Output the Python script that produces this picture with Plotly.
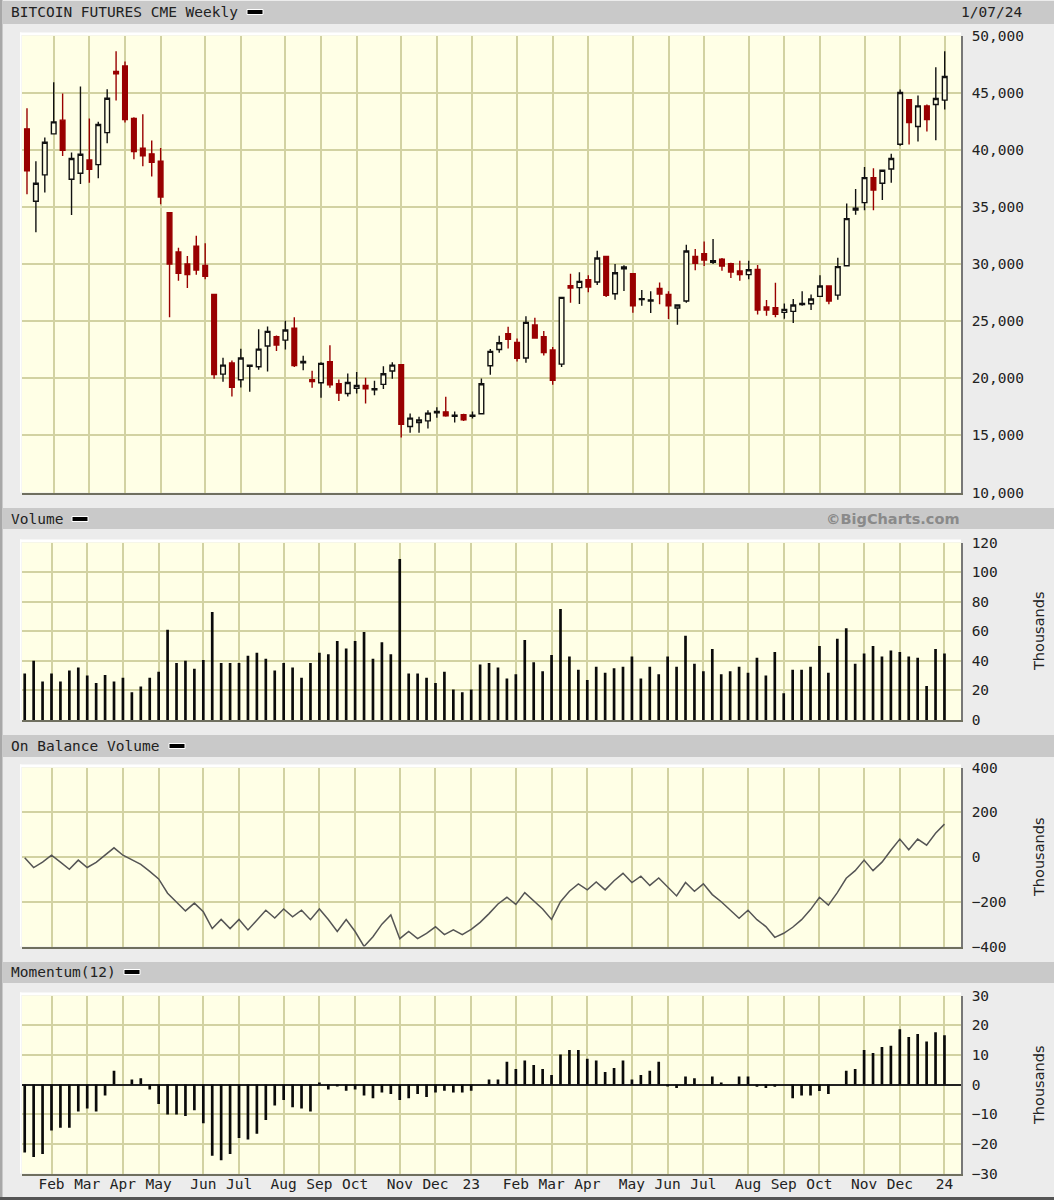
import pandas as pd
import plotly.graph_objects as go

weeks = pd.date_range("2022-01-16", periods=104, freq="7D")

open_ = [41830,35490,37800,41390,42590,37420,37940,39110,38700,41500,46850,47340,42730,40130,39640,38990,
         34500,31050,30000,31550,29880,27340,20360,21330,19870,21040,21010,22820,23630,23340,24390,21360,
         19870,19600,21440,19520,18670,19110,19370,18990,19460,20630,21180,15780,16130,16270,16980,17060,
         16680,16800,16680,16890,21090,22520,23900,23140,21770,24660,23630,22470,21240,28100,27930,28630,
         28420,30670,27400,29590,29150,26880,26760,27870,27340,26150,26760,30670,30900,30150,30410,30030,
         29390,29070,29530,26230,26170,25770,25850,26440,26520,27170,28070,27280,29850,34730,35370,37560,
         37070,38320,40480,44370,42030,43840,43960,44340]
high = [43640,38990,41070,45910,44920,39750,45530,42730,42440,45300,48630,47720,42850,43110,40800,40160,
        34500,31430,30700,32480,31810,27340,21800,21560,22580,21150,24280,24540,23750,25040,25330,21970,
        20660,21410,22880,19900,20420,20540,20040,19780,21040,21410,21180,16920,16630,17210,17470,18380,
        17090,16890,17090,19980,22550,23720,24510,23490,25420,25300,24130,22730,27140,29150,29270,29010,
        31170,30670,30000,29880,29150,27720,27610,28390,27610,26470,31690,31310,31960,32190,30530,30120,
        30290,30290,29910,26850,28360,26550,26930,27610,27340,29010,28070,30550,35290,36570,38500,38380,
        38230,39640,45270,44370,44750,43960,47230,48630]
low = [36100,32770,36250,41390,39460,34290,37010,37120,37500,40570,44310,42380,39170,38560,37650,35230,
       25330,28540,27900,29070,28660,19955,19690,18410,19200,18820,20740,20600,22380,22520,20980,20710,
       19170,18290,19170,18000,18410,18670,17800,18520,19050,19950,14820,15220,15220,15600,16540,16630,
       16130,16250,16480,16890,20310,22230,22610,21470,21360,23520,22000,19430,20980,26610,26500,27520,
       28160,27110,26880,27630,25740,26350,25710,26470,25180,24690,26610,29450,29820,30000,29420,28770,
       28540,28660,25590,25470,25330,25210,24830,26350,25970,27170,26470,26880,29850,34320,34700,34700,
       35610,37120,40340,40450,40720,41590,40830,43520]
close = [38150,37070,40660,42440,39960,39230,39610,38290,42210,44510,46640,42640,39840,39460,38910,35870,
         30000,29180,29070,29470,28920,20330,21150,19200,21770,21150,22550,24100,22900,24220,21120,21470,
         19720,21300,19430,18700,19630,19370,19080,19080,20390,21150,15980,16510,16360,16950,17090,16710,
         16770,16360,16770,19520,22350,23110,23400,21740,24890,23520,22260,19810,27080,27900,28480,27990,
         30530,27250,29240,29740,26350,26960,26850,27370,26350,26410,31140,30060,30350,30290,29820,29300,
         29070,29500,25970,25970,25590,26030,26410,26550,26930,28070,26760,29770,33970,34880,37560,36480,
         38210,39230,45010,42380,43840,42640,44480,46410]

volume = [31.5,40,26,31.5,26,33.5,35.5,30,25,30.5,26,28.5,18.7,22.7,28.5,32.6,61,38.5,40,34.7,40.5,73,38.5,
          38.5,38.5,43.5,45.5,41.4,33.5,38.5,35.5,28.5,38.5,45.5,44.4,53.4,48.4,53.4,59.5,41.4,52.5,44.4,
          108.8,31.5,31.5,28.5,25,32.6,20.7,18.7,20.7,37.6,38.5,35.5,28,31,54,39,33,44,75,43,34,27,36,32,
          35,36,43,28,36,31,43,36,57,38,33,48,31,33,36,32,42,30,46,18,34,34,36,50,32,55,62,38,45,50,43,47,
          46,43,42,23,48,45]
obv = [-3,-47,-23,8,-23,-55,-14,-47,-24,8,41,8,-14,-33,-64,-98,-162,-202,-241,-206,-245,-320,-279,-320,
       -279,-326,-280,-238,-273,-232,-267,-238,-280,-232,-279,-333,-279,-333,-400,-356,-300,-259,-365,-333,
       -365,-341,-312,-347,-326,-347,-323,-292,-253,-210,-180,-212,-159,-197,-232,-279,-200,-153,-120,-147,
       -112,-147,-106,-73,-114,-86,-127,-94,-133,-174,-114,-153,-120,-168,-200,-235,-274,-238,-280,-311,
       -359,-341,-314,-280,-235,-180,-215,-159,-95,-61,-14,-61,-23,30,80,32,80,53,106,147]
momentum = [-22.9,-24.4,-23.4,-15.5,-14.6,-14.6,-9.1,-8.1,-9.1,-3.7,4.6,0,1.7,2.1,-1.7,-6.6,-10.1,-10.1,-10.6,
            -8.7,-13.1,-24,-25.5,-23.4,-18,-18.5,-16.6,-12,-7.1,-5.2,-7.7,-8.1,-9.1,0.7,-1.7,-0.7,-2.1,-1.7,
            -3.7,-4.6,-2.7,-3.2,-5.2,-4.6,-3.2,-4.2,-2.7,-2.1,-2.7,-2.7,-2.1,0,1.7,1.7,7.7,5.2,8.1,6.6,5.2,3.2,
            10.1,11.6,11.6,8.7,8.1,4.2,5.6,8.1,1.7,3.2,4.6,7.7,-0.6,-1.2,2.7,2.1,0,2.7,0.7,0,2.7,2.7,-0.8,-1.2,
            -0.8,0,-4.6,-3.7,-3.7,-2.2,-3.2,0,4.6,5.2,11.6,10.6,12.6,13.1,18.6,16,17,14.5,17.6,16.6]

month_ticks = ["2022-02-06","2022-03-06","2022-04-03","2022-05-01","2022-06-05","2022-07-03","2022-08-07",
               "2022-09-04","2022-10-02","2022-11-06","2022-12-04","2023-01-01","2023-02-05","2023-03-05",
               "2023-04-02","2023-05-07","2023-06-04","2023-07-02","2023-08-06","2023-09-03","2023-10-01",
               "2023-11-05","2023-12-03","2024-01-07"]
month_labels = ["Feb","Mar","Apr","May","Jun","Jul","Aug","Sep","Oct","Nov","Dec","23","Feb","Mar","Apr",
                "May","Jun","Jul","Aug","Sep","Oct","Nov","Dec","24"]

price_ticks = [10000,15000,20000,25000,30000,35000,40000,45000,50000]
volume_ticks = [0,20,40,60,80,100,120]
obv_ticks = [-400,-200,0,200,400]
momentum_ticks = [-30,-20,-10,0,10,20,30]

W, H = 1054, 1200
BG = "#ececec"
HEADER = "#c9c9c9"
PLOT = "#ffffe6"
GRID = "#d2d2a2"
RED = "#990000"
MONO = "DejaVu Sans Mono"
XRANGE = ["2022-01-13 21:00", "2024-01-19 23:00"]
XRANGE_MAIN = ["2022-01-12 02:00", "2024-01-19 19:00"]
PX_L, PX_R = 22, 961
panels = [
    dict(top=35.5, bot=492.5, rng=[10000, 50000], ticks=price_ticks, fmt=","),
    dict(top=542.5, bot=720, rng=[0, 120], ticks=volume_ticks, fmt=""),
    dict(top=767.5, bot=946.5, rng=[-400, 400], ticks=obv_ticks, fmt=""),
    dict(top=995.5, bot=1173.5, rng=[-30, 30], ticks=momentum_ticks, fmt=""),
]

def fy(py):
    return 1 - py / H

def fx(px):
    return px / W

fig = go.Figure()
fig.add_trace(go.Candlestick(
    x=weeks, open=open_, high=high, low=low, close=close, xaxis="x", yaxis="y",
    increasing=dict(line=dict(color="#111111", width=1.4), fillcolor=PLOT),
    decreasing=dict(line=dict(color=RED, width=1.4), fillcolor=RED),
    whiskerwidth=0, showlegend=False))
fig.add_trace(go.Bar(x=weeks, y=volume, xaxis="x2", yaxis="y2", marker=dict(color="#0a0a0a", line_width=0),
                     showlegend=False))
fig.add_trace(go.Scatter(x=weeks, y=obv, xaxis="x3", yaxis="y3", mode="lines",
                         line=dict(color="#555555", width=1.5), showlegend=False))
fig.add_trace(go.Bar(x=weeks, y=momentum, xaxis="x4", yaxis="y4", marker=dict(color="#0a0a0a", line_width=0),
                     showlegend=False))

layout = dict(
    width=W, height=H, autosize=False, margin=dict(l=0, r=0, t=0, b=0),
    paper_bgcolor=BG, plot_bgcolor=PLOT, bargap=0.7, boxgap=0.25, showlegend=False,
    font=dict(family=MONO, size=14.5, color="#222222"),
)
for i, p in enumerate(panels):
    n = "" if i == 0 else str(i + 1)
    layout["xaxis" + n] = dict(
        type="date", domain=[fx(PX_L), fx(PX_R)], range=XRANGE_MAIN if i == 0 else XRANGE,
        anchor="y" + n, automargin=False,
        tickmode="array", tickvals=month_ticks, ticktext=month_labels if i == 3 else [""] * len(month_ticks),
        showgrid=True, gridcolor=GRID, gridwidth=1.5, showline=True, linecolor="#6f6f5f", linewidth=1.5,
        ticks="", zeroline=False, rangeslider=dict(visible=False), tickangle=0, fixedrange=True,
        ticklabelstandoff=-4, tickfont=dict(family=MONO, size=14.5, color="#222222"),
    )
    ticktext = [(f"{t:,}" if p["fmt"] else str(t)).replace("-", "\u2212") for t in p["ticks"]]
    layout["yaxis" + n] = dict(
        domain=[fy(p["bot"]), fy(p["top"])], range=p["rng"], anchor="x" + n, side="right", automargin=False,
        tickmode="array", tickvals=p["ticks"], ticktext=ticktext,
        showgrid=True, gridcolor=GRID, gridwidth=1.5, showline=True, linecolor="#777777", linewidth=1.5,
        ticks="outside", ticklen=6, tickcolor="rgba(0,0,0,0)", zeroline=(i == 3), zerolinecolor="#222222",
        zerolinewidth=2, fixedrange=True, tickfont=dict(family=MONO, size=14.5, color="#222222"),
    )

def rect(x0, y0, x1, y1, fill, line=None, width=0):
    return dict(type="rect", xref="paper", yref="paper", x0=fx(x0), x1=fx(x1), y0=fy(y1), y1=fy(y0),
                fillcolor=fill, line=dict(color=line or fill, width=width), layer="below")

shapes = [
    rect(3, 1, W, 24, HEADER), rect(3, 508, W, 529, HEADER),
    rect(3, 735, W, 757, HEADER), rect(3, 962, W, 983, HEADER),
    rect(0, 0, 2.5, H, "#a8a8a8"), rect(0, 1197, W, H, "#555555"),
]
for p in panels:
    shapes.append(rect(PX_L - 2, p["top"] - 3, PX_R, p["top"] - 0.5, "#ffffff"))
    shapes.append(rect(PX_L - 2, p["top"] - 3, PX_L - 0.5, p["bot"], "#ffffff"))
for x0, yc in [(247, 12), (72, 519), (169, 746), (124, 972)]:
    s = rect(x0, yc - 2.5, x0 + 16, yc + 2.5, "#000000", "#ffffff", 1)
    s["layer"] = "above"
    shapes.append(s)
layout["shapes"] = shapes

def note(px, py, text, anchor="left", **kw):
    font = kw.pop("font", dict(family=MONO, size=14.5, color="#222222"))
    return dict(xref="paper", yref="paper", x=fx(px), y=fy(py), text=text, showarrow=False, xanchor=anchor,
                yanchor="middle", font=font, **kw)

thousands = dict(family="DejaVu Sans", size=14.5, color="#222222")
layout["annotations"] = [
    note(9, 12.5, "BITCOIN FUTURES CME Weekly"),
    note(1024, 12.5, "1/07/24", anchor="right"),
    note(9, 519, "Volume"),
    note(962, 519, "\u00a9BigCharts.com", anchor="right",
         font=dict(family="DejaVu Sans", size=14.5, color="#8a8a8a", weight="bold")),
    note(9, 746, "On Balance Volume"),
    note(9, 972, "Momentum(12)"),
    note(1039, 631, "Thousands", anchor="center", textangle=-90, font=thousands),
    note(1039, 857, "Thousands", anchor="center", textangle=-90, font=thousands),
    note(1039, 1085, "Thousands", anchor="center", textangle=-90, font=thousands),
]
fig.update_layout(**layout)
fig.write_html("out.html", config={"displayModeBar": False},
               post_script="document.body.style.margin='0';document.documentElement.style.overflow='hidden';")
